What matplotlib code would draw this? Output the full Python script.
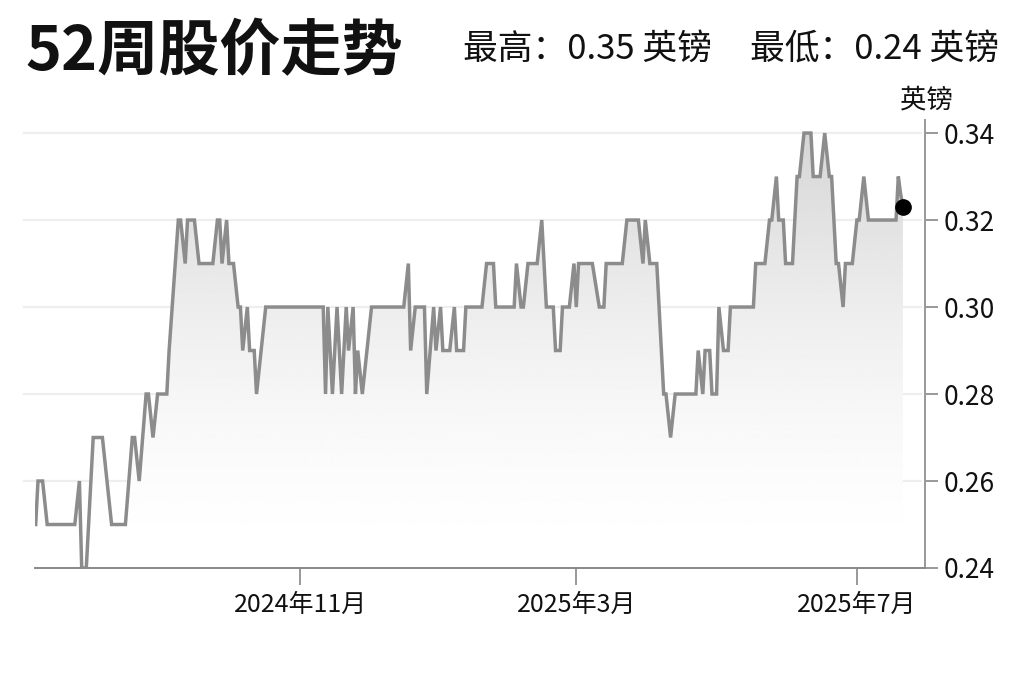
import matplotlib
matplotlib.use("Agg")
import matplotlib.pyplot as plt
import matplotlib.dates as mdates
import matplotlib.transforms as mtransforms
from matplotlib.patches import Polygon
import numpy as np
import pandas as pd

plt.rcParams['font.family'] = ['Noto Sans CJK SC', 'DejaVu Sans']

# 52周股价 (英镑) - 读图估计的转折点
dates = [
    "2024-07-09", "2024-07-10", "2024-07-12", "2024-07-14", "2024-07-26", "2024-07-28",
    "2024-07-29", "2024-07-31", "2024-08-03", "2024-08-07", "2024-08-11", "2024-08-17",
    "2024-08-20", "2024-08-21", "2024-08-23", "2024-08-26", "2024-08-27", "2024-08-29",
    "2024-08-31", "2024-09-04", "2024-09-05", "2024-09-09", "2024-09-10", "2024-09-12",
    "2024-09-13", "2024-09-16", "2024-09-18", "2024-09-24", "2024-09-26", "2024-09-27",
    "2024-09-28", "2024-09-30", "2024-10-01", "2024-10-03", "2024-10-05", "2024-10-06",
    "2024-10-07", "2024-10-09", "2024-10-10", "2024-10-12", "2024-10-13", "2024-10-17",
    "2024-11-11", "2024-11-12", "2024-11-13", "2024-11-15", "2024-11-17", "2024-11-19",
    "2024-11-21", "2024-11-22", "2024-11-24", "2024-11-25", "2024-11-26", "2024-11-28",
    "2024-12-02", "2024-12-16", "2024-12-18", "2024-12-19", "2024-12-21", "2024-12-25",
    "2024-12-26", "2024-12-29", "2024-12-30", "2025-01-01", "2025-01-02", "2025-01-05",
    "2025-01-07", "2025-01-08", "2025-01-11", "2025-01-12", "2025-01-19", "2025-01-21",
    "2025-01-24", "2025-01-25", "2025-02-02", "2025-02-03", "2025-02-05", "2025-02-06",
    "2025-02-08", "2025-02-12", "2025-02-14", "2025-02-16", "2025-02-19", "2025-02-20",
    "2025-02-22", "2025-02-23", "2025-02-26", "2025-02-28", "2025-03-01", "2025-03-02",
    "2025-03-08", "2025-03-11", "2025-03-13", "2025-03-14", "2025-03-21", "2025-03-23",
    "2025-03-28", "2025-03-30", "2025-03-31", "2025-04-02", "2025-04-05", "2025-04-08",
    "2025-04-09", "2025-04-11", "2025-04-13", "2025-04-22", "2025-04-23", "2025-04-25",
    "2025-04-26", "2025-04-28", "2025-04-29", "2025-05-01", "2025-05-02", "2025-05-04",
    "2025-05-06", "2025-05-07", "2025-05-17", "2025-05-18", "2025-05-22", "2025-05-24",
    "2025-05-25", "2025-05-27", "2025-05-28", "2025-05-30", "2025-05-31", "2025-06-03",
    "2025-06-05", "2025-06-06", "2025-06-08", "2025-06-11", "2025-06-12", "2025-06-15",
    "2025-06-17", "2025-06-19", "2025-06-20", "2025-06-22", "2025-06-23", "2025-06-25",
    "2025-06-26", "2025-06-29", "2025-07-01", "2025-07-02", "2025-07-04", "2025-07-06",
    "2025-07-18", "2025-07-19", "2025-07-20", "2025-07-21",
]
prices = [
    0.25, 0.26, 0.26, 0.25, 0.25, 0.26,
    0.24, 0.24, 0.27, 0.27, 0.25, 0.25,
    0.27, 0.27, 0.26, 0.28, 0.28, 0.27,
    0.28, 0.28, 0.29, 0.32, 0.32, 0.31,
    0.32, 0.32, 0.31, 0.31, 0.32, 0.32,
    0.31, 0.32, 0.31, 0.31, 0.30, 0.30,
    0.29, 0.30, 0.29, 0.29, 0.28, 0.30,
    0.30, 0.28, 0.30, 0.28, 0.30, 0.28,
    0.30, 0.29, 0.30, 0.28, 0.29, 0.28,
    0.30, 0.30, 0.31, 0.29, 0.30, 0.30,
    0.28, 0.30, 0.29, 0.30, 0.29, 0.29,
    0.30, 0.29, 0.29, 0.30, 0.30, 0.31,
    0.31, 0.30, 0.30, 0.31, 0.30, 0.30,
    0.31, 0.31, 0.32, 0.30, 0.30, 0.29,
    0.29, 0.30, 0.30, 0.31, 0.30, 0.31,
    0.31, 0.30, 0.30, 0.31, 0.31, 0.32,
    0.32, 0.31, 0.32, 0.31, 0.31, 0.28,
    0.28, 0.27, 0.28, 0.28, 0.29, 0.28,
    0.29, 0.29, 0.28, 0.28, 0.30, 0.29,
    0.29, 0.30, 0.30, 0.31, 0.31, 0.32,
    0.32, 0.33, 0.32, 0.32, 0.31, 0.31,
    0.33, 0.33, 0.34, 0.34, 0.33, 0.33,
    0.34, 0.33, 0.33, 0.31, 0.31, 0.30,
    0.31, 0.31, 0.32, 0.32, 0.33, 0.32,
    0.32, 0.33, 0.326, 0.323,
]

tick_dates = ["2024-11-01", "2025-03-01", "2025-07-01"]
tick_labels = ["2024年11月", "2025年3月", "2025年7月"]
y_ticks = [0.24, 0.26, 0.28, 0.30, 0.32, 0.34]
high_price = 0.35
low_price = 0.24
currency = "英镑"
title = "52周股价走势"

x = mdates.date2num(pd.to_datetime(dates))
y = np.array(prices)

fig = plt.figure(figsize=(10.24, 6.82), dpi=100)
ax = fig.add_axes([35 / 1024, 1 - 568 / 682, 890 / 1024, 448 / 682])

ymin, ymax = 0.24, 0.343
ax.set_xlim(mdates.date2num(pd.Timestamp("2024-07-09")) - 0.3,
            mdates.date2num(pd.Timestamp("2025-07-30")) + 0.6)
ax.set_ylim(ymin, ymax)

# 背景横线
trans = mtransforms.blended_transform_factory(ax.transAxes, ax.transData)
for t in y_ticks[1:]:
    ax.plot([-0.012, 0.995], [t, t], transform=trans, color="#eeeeee",
            lw=1.6, zorder=0, clip_on=False)

# 渐变填充
poly = Polygon(np.column_stack([np.r_[x[0], x, x[-1]], np.r_[ymin, y, ymin]]),
               closed=True, facecolor="none", edgecolor="none")
ax.add_patch(poly)
t = np.linspace(0, 1, 256)
grad = (1 - 0.17 * (1 - t) ** 1.6).reshape(-1, 1)
img = ax.imshow(grad, cmap="gray", vmin=0, vmax=1, aspect="auto",
                extent=[x[0], x[-1], ymin, ymax], origin="upper", zorder=1)
img.set_clip_path(poly)

ax.plot(x, y, color="#8c8c8c", lw=2.5, zorder=3, solid_joinstyle="miter")
ax.plot(x[-1], y[-1], "o", ms=11, color="black", zorder=5, clip_on=False)

# 坐标轴
for s in ["top", "left"]:
    ax.spines[s].set_visible(False)
ax.spines["bottom"].set_color("#888888")
ax.spines["bottom"].set_linewidth(1.4)
ax.spines["right"].set_color("#999999")
ax.spines["right"].set_linewidth(1.4)

ax.yaxis.tick_right()
ax.set_yticks(y_ticks)
ax.set_yticklabels([f"{v:.2f}" for v in y_ticks])
ax.tick_params(axis="y", length=9.5, width=1.2, color="#888888", labelsize=19,
               pad=4, labelcolor="#111111")
ax.set_xticks(mdates.date2num(pd.to_datetime(tick_dates)))
ax.set_xticklabels(tick_labels)
ax.tick_params(axis="x", length=12, width=1.2, color="#888888", labelsize=18,
               pad=5, labelcolor="#111111")

# 标题和文字
fig.text(25 / 1024, 1 - 52 / 682, title, fontsize=44, fontweight="bold",
         va="center", ha="left", color="#111111")
fig.text(463 / 1024, 1 - 49 / 682, f"最高：{high_price:.2f} {currency}",
         fontsize=25, va="center", ha="left", color="#111111")
fig.text(750 / 1024, 1 - 49 / 682, f"最低：{low_price:.2f} {currency}",
         fontsize=25, va="center", ha="left", color="#111111")
fig.text(926 / 1024, 1 - 100 / 682, currency, fontsize=19, va="center",
         ha="center", color="#111111")

fig.savefig("out.png", dpi=100)
